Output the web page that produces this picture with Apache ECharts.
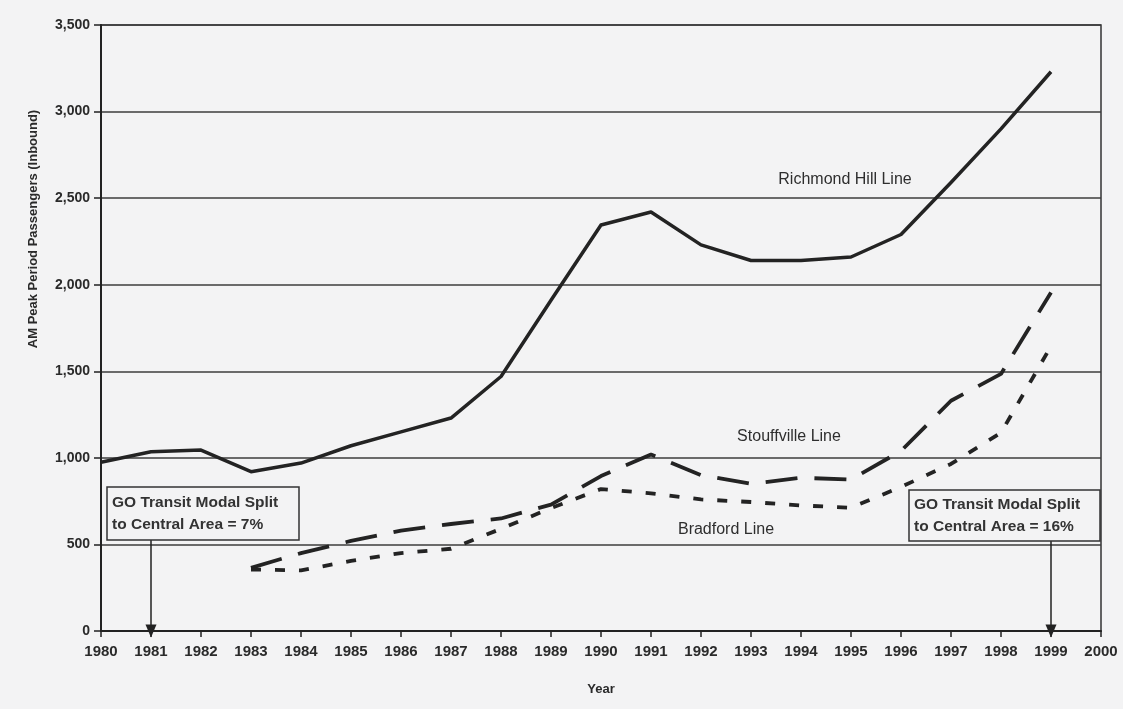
<!DOCTYPE html>
<html>
<head>
<meta charset="utf-8">
<script src="https://cdn.jsdelivr.net/npm/echarts@6/dist/echarts.min.js"></script>
<style>
  html, body { margin: 0; padding: 0; background: #f3f3f4; }
  #chart { width: 1123px; height: 709px; }
</style>
</head>
<body>
<div id="chart"></div>
<script>
// ---- data ----
const years       = [1980, 1981, 1982, 1983, 1984, 1985, 1986, 1987, 1988, 1989, 1990, 1991, 1992, 1993, 1994, 1995, 1996, 1997, 1998, 1999];
const richmondHill = [975, 1035, 1045, 920, 970, 1070, 1150, 1230, 1470, 1910, 2345, 2420, 2230, 2140, 2140, 2160, 2290, 2590, 2900, 3230];
const stouffville  = [null, null, null, 365, 450, 520, 580, 618, 650, 730, 895, 1020, 900, 850, 885, 875, 1040, 1330, 1485, 1955];
const bradford     = [null, null, null, 355, 350, 405, 450, 475, 590, 710, 820, 795, 760, 745, 725, 712, 832, 965, 1145, 1645];
const seriesNames  = ['Richmond Hill Line', 'Stouffville Line', 'Bradford Line'];
const noteTexts    = ['GO Transit Modal Split\nto Central Area = 7%', 'GO Transit Modal Split\nto Central Area = 16%'];
const noteYears    = [1981, 1999];
const yAxisTitle   = 'AM Peak Period Passengers (Inbound)';
const xAxisTitle   = 'Year';

// ---- layout (positions in data units, kept separate from the values) ----
const lineLabelPos = [[1994.88, 2605], [1993.76, 1121], [1992.5, 583]];
const noteBoxes = [
  { x0: 1980.12, x1: 1983.96, yTop: 832, yBot: 526 },
  { x0: 1996.16, x1: 1999.98, yTop: 815, yBot: 520 }
];

const INK = '#232323';
const pairs = arr => years.map((y, i) => [y, arr[i]]).filter(p => p[1] != null);

const chart = echarts.init(document.getElementById('chart'), null, { renderer: 'canvas' });

const option = {
  backgroundColor: '#f3f3f4',
  animation: false,
  grid: { left: 101, right: 22, top: 25, bottom: 78, show: true, borderColor: '#333', borderWidth: 1.5, backgroundColor: 'transparent' },
  xAxis: {
    type: 'value', min: 1980, max: 2000, interval: 1,
    axisLine: { show: true, onZero: false, lineStyle: { color: '#222', width: 2 } },
    axisTick: { show: true, length: 6, lineStyle: { color: '#222', width: 1.5 } },
    splitLine: { show: false },
    axisLabel: { color: '#2a2a2a', fontSize: 15, fontWeight: 'bold', fontFamily: 'Liberation Sans, Arial, sans-serif', margin: 13, formatter: v => String(v), showMinLabel: true, showMaxLabel: true },
    name: xAxisTitle, nameLocation: 'middle', nameGap: 52,
    nameTextStyle: { color: '#2a2a2a', fontSize: 13, fontWeight: 'bold', fontFamily: 'Liberation Sans, Arial, sans-serif' }
  },
  yAxis: {
    type: 'value', min: 0, max: 3500, interval: 500,
    axisLine: { show: true, lineStyle: { color: '#222', width: 2 } },
    axisTick: { show: true, length: 7, lineStyle: { color: '#222', width: 1.5 } },
    splitLine: { show: true, lineStyle: { color: '#3c3c3c', width: 1.6 } },
    axisLabel: { color: '#2a2a2a', fontSize: 14, fontWeight: 'bold', fontFamily: 'Liberation Sans, Arial, sans-serif', margin: 11,
      formatter: v => v.toLocaleString('en-US') }
  },
  series: [
    { name: seriesNames[0], type: 'line', data: pairs(richmondHill), symbol: 'none', z: 5,
      lineStyle: { color: INK, width: 3.5, join: 'round' },
      markLine: {
        silent: true, symbol: ['none', 'triangle'], symbolSize: [11, 13],
        label: { show: false },
        lineStyle: { color: '#222', width: 1.5, type: 'solid' },
        emphasis: { disabled: true },
        data: noteYears.map((yr, i) => [{ coord: [yr, noteBoxes[i].yBot] }, { coord: [yr, 0] }])
      }
    },
    { name: seriesNames[1], type: 'line', data: pairs(stouffville), symbol: 'none', z: 5,
      lineStyle: { color: INK, width: 3.8, type: [32, 17], cap: 'butt' } },
    { name: seriesNames[2], type: 'line', data: pairs(bradford), symbol: 'none', z: 5,
      lineStyle: { color: INK, width: 3.8, type: [10, 14], cap: 'butt' } }
  ]
};
chart.setOption(option);

const px = (x, y) => chart.convertToPixel({ gridIndex: 0 }, [x, y]);
const graphics = [];

// y axis title (rotated)
graphics.push({
  type: 'text', x: 33, y: 229, rotation: Math.PI / 2, z: 20,
  style: { text: yAxisTitle, fill: '#2a2a2a', font: 'bold 13px "Liberation Sans", Arial, sans-serif', textAlign: 'center', textVerticalAlign: 'middle' }
});

// series labels
seriesNames.forEach((name, i) => {
  const p = px(lineLabelPos[i][0], lineLabelPos[i][1]);
  graphics.push({
    type: 'text', x: p[0], y: p[1], z: 20,
    style: { text: name, fill: '#2e2e2e', font: '16px "Liberation Sans", Arial, sans-serif', textAlign: 'center', textVerticalAlign: 'middle' }
  });
});

// annotation boxes
noteBoxes.forEach((b, i) => {
  const tl = px(b.x0, b.yTop), br = px(b.x1, b.yBot);
  graphics.push({
    type: 'rect', z: 15,
    shape: { x: tl[0], y: tl[1], width: br[0] - tl[0], height: br[1] - tl[1] },
    style: { fill: '#f3f3f4', stroke: '#333', lineWidth: 1.5 }
  });
  graphics.push({
    type: 'text', z: 16, x: tl[0] + 5, y: (tl[1] + br[1]) / 2,
    style: { text: noteTexts[i], fill: '#333', font: 'bold 15.5px "Liberation Sans", Arial, sans-serif', textAlign: 'left', textVerticalAlign: 'middle', lineHeight: 22 }
  });
});

chart.setOption({ graphic: graphics });
</script>
</body>
</html>
